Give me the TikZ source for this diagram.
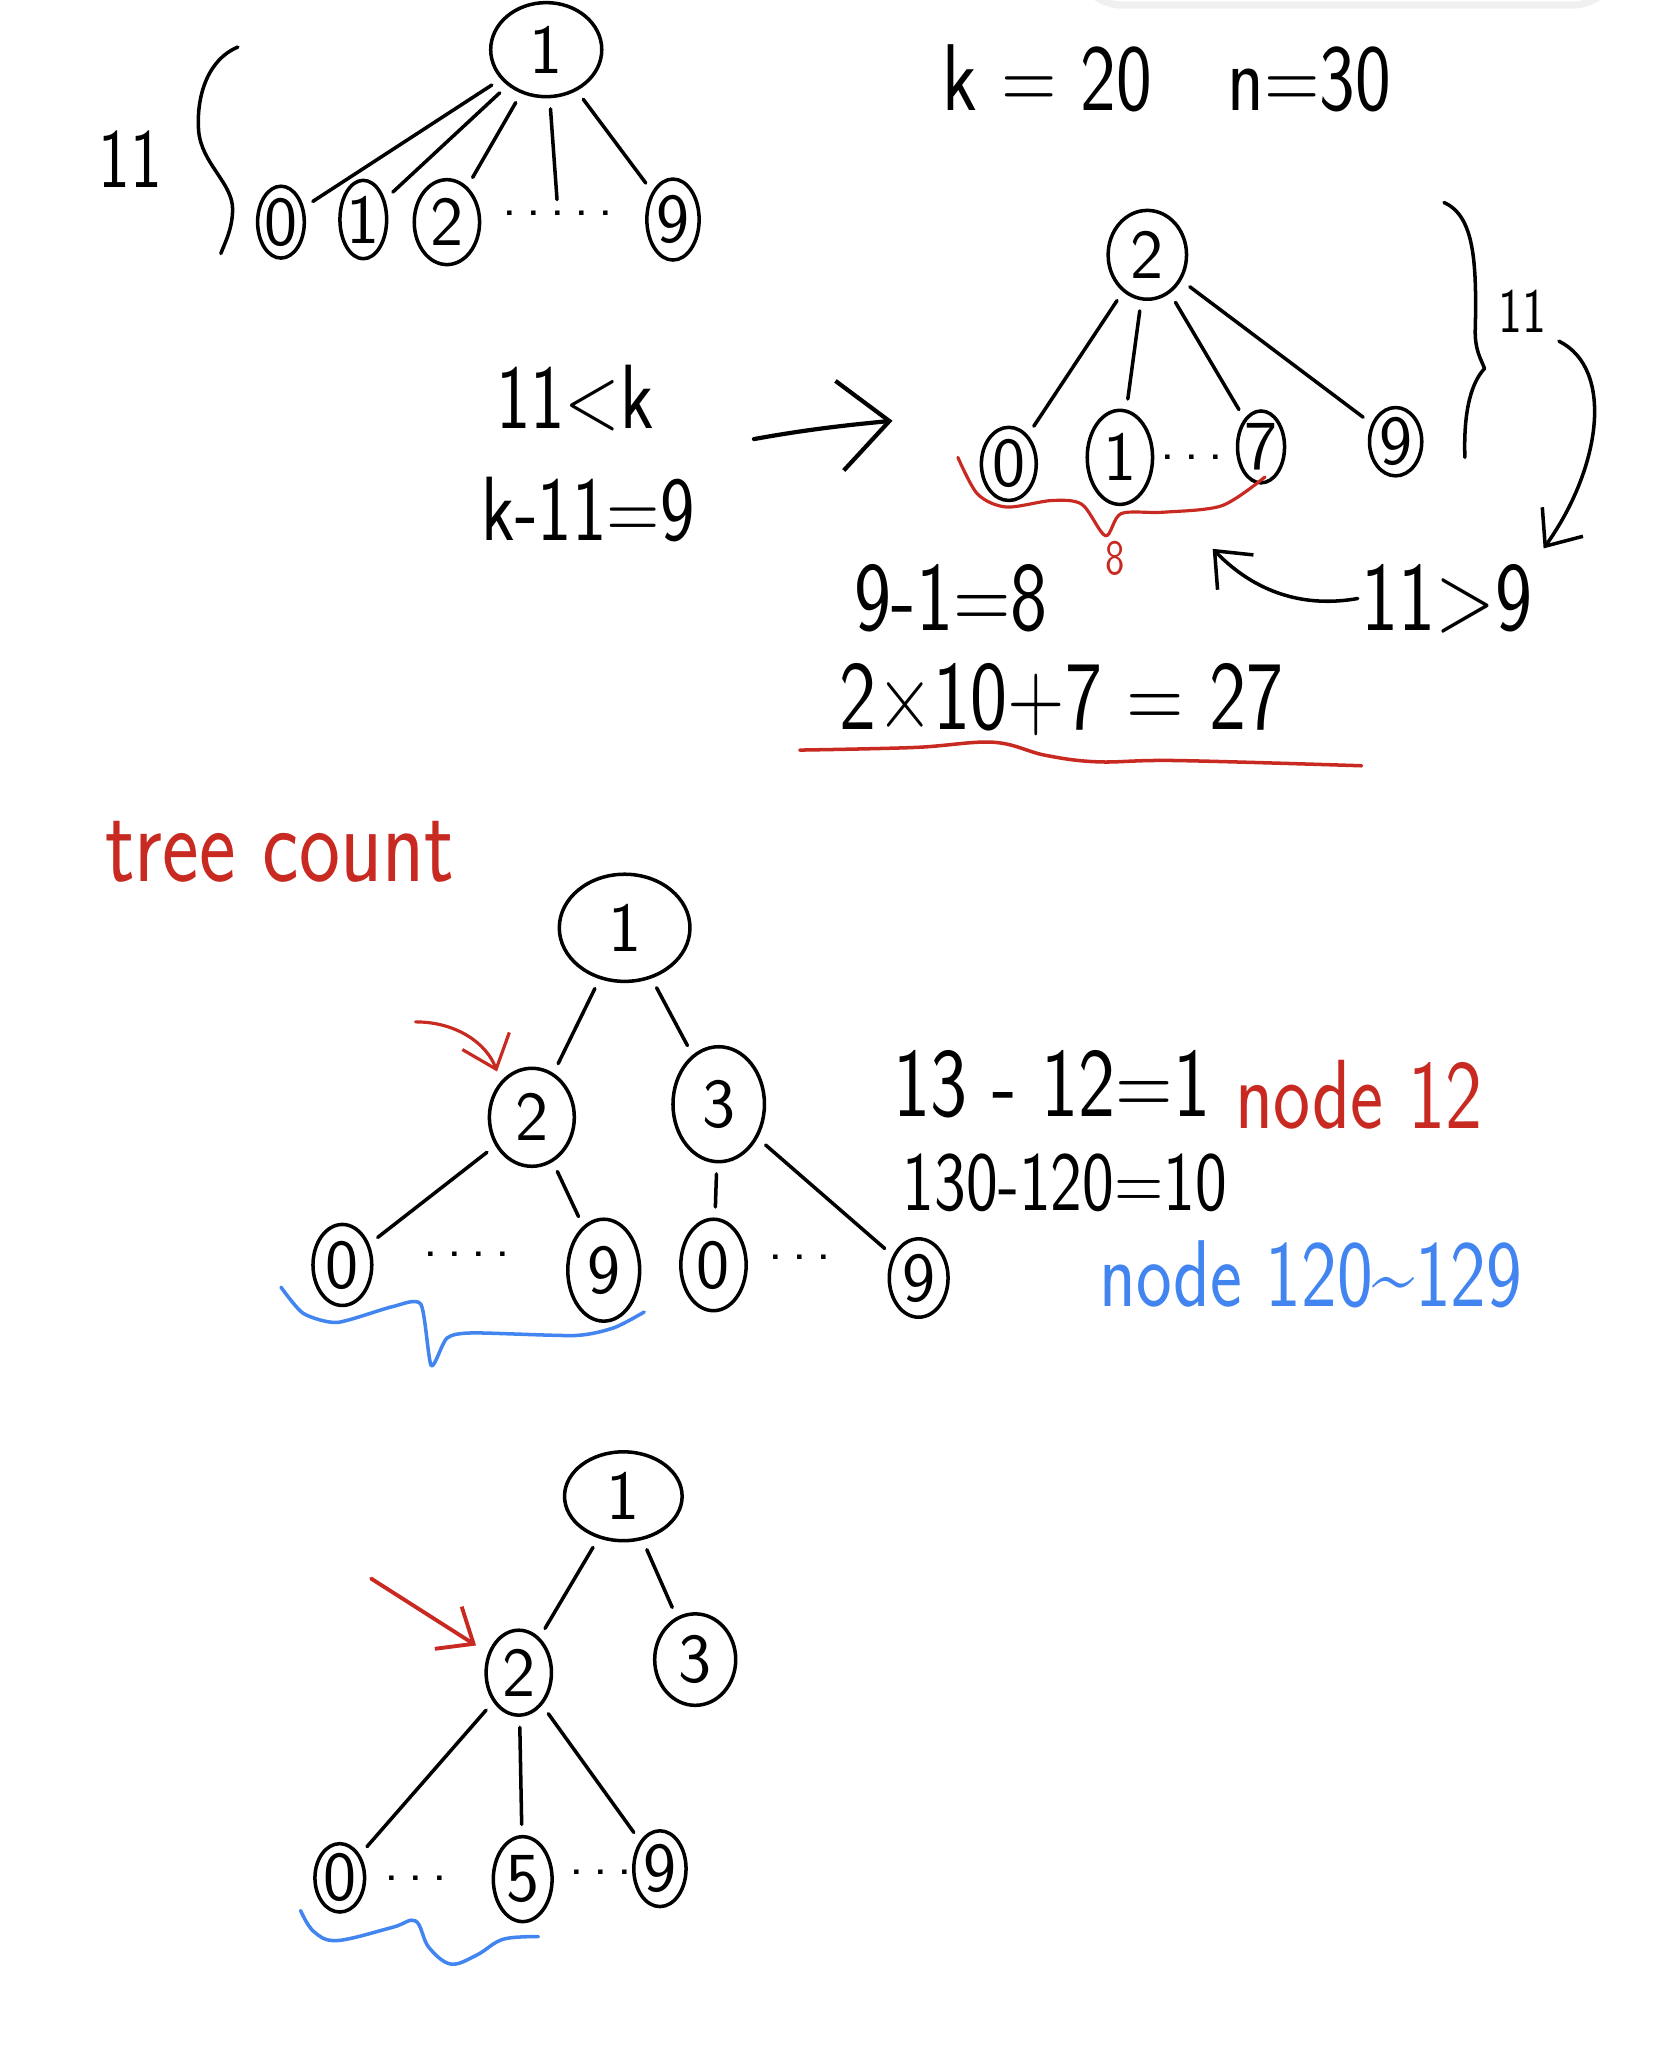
\documentclass[tikz,border=0pt]{standalone}
\usetikzlibrary{shapes.geometric,arrows.meta}
\definecolor{penred}{RGB}{200,42,34}
\definecolor{penblue}{RGB}{66,133,240}
\tikzset{
  nd/.style={draw,ellipse,line width=1pt,inner sep=0pt,font=\sffamily\fontsize{20}{20}\selectfont},
  sz/.style 2 args={minimum width=#1*0.13072mm,minimum height=#2*0.13072mm},
  hand/.style={inner sep=1pt,xscale=0.8,font=\sffamily\fontsize{#1}{#1}\selectfont},
  hand/.default=28,
  dots/.style={inner sep=0pt,font=\sffamily\fontsize{16}{16}\selectfont},
  lnk/.style={line width=1pt,shorten <=3pt,shorten >=3pt},
}
\begin{document}
\begin{tikzpicture}[x=0.13072mm,y=-0.13072mm,line cap=round,line join=round,
  >={Straight Barb[length=3mm,width=5mm]}]
\useasboundingbox[fill=white] (0,0) rectangle (1276,1568);
\draw[gray!12,line width=2pt,rounded corners=14pt] (822,-30) -- (822,4) -- (1240,4) -- (1240,-30);

% first tree: root 1 with ten children
\node[nd,sz={85}{72}] (ar) at (418,38) {1};
\node[nd,sz={32}{55}] (ac0) at (215,170) {0};
\node[nd,sz={30}{60}] (ac1) at (278,168) {1};
\node[nd,sz={50}{65}] (ac2) at (342,170) {2};
\node[dots] (adots) at (427,163) {.\,.\,.\,.\,.};
\node[nd,sz={40}{62}] (ac9) at (515,168) {9};
\foreach \c in {ac0,ac1,ac2,adots,ac9}
  \draw[lnk] (ar) -- (\c);
\draw[line width=1pt] (182,36) .. controls (160,45) and (150,72) .. (152,100)
  .. controls (154,125) and (178,140) .. (178,160) .. controls (178,175) and (172,186) .. (169,194);
\node[hand=24] (n11a) at (100,122) {11};
\node[hand=27] (kn) at (893,60) {k = 20\quad n=30};

% second tree: subtree of 2
\node[nd,sz={60}{68}] (br) at (878,195) {2};
\node[nd,sz={42}{56}] (bc0) at (772,355) {0};
\node[nd,sz={50}{72}] (bc1) at (857,350) {1};
\node[dots] (bdots) at (912,350) {.\,.\,.};
\node[nd,sz={36}{55}] (bc7) at (965,342) {7};
\node[nd,sz={40}{52}] (bc9) at (1068,338) {9};
\foreach \c in {bc0,bc1,bc7,bc9}
  \draw[lnk] (br) -- (\c);
\draw[line width=1pt] (1105,155) .. controls (1128,165) and (1130,200) .. (1129,250)
  .. controls (1128,268) and (1134,276) .. (1136,282) .. controls (1124,295) and (1120,320) .. (1121,350);
\node[hand=18] (n11b) at (1165,238) {11};

\node[hand=26] (ltk) at (440,305) {11<k};
\node[hand=26] (kmi) at (450,390) {k-11=9};
\coordinate (as) at (577,336);
\coordinate (ae) at (683,322);
\draw[line width=1.2pt,-{Straight Barb[length=5mm,width=9mm]}] (as) .. controls (610,330) and (640,326) .. (ae);

\draw[penred,line width=0.9pt] plot[smooth,tension=0.5] coordinates
  {(733,350) (748,378) (770,388) (805,383) (828,386) (846,410) (858,393) (890,392) (935,387) (968,365)};
\node[hand=14,text=penred] (n8) at (853,427) {8};
\node[hand] (nin) at (728,458) {9-1=8};
\node[hand] (gt) at (1107,458) {11>9};
\draw[line width=1pt,->,shorten <=3pt,shorten >=4pt] (n11b.south east)
  .. controls +(50,25) and +(50,-70) .. (gt.north east);
\draw[line width=1pt,->] (gt.west) .. controls (1000,465) and (962,455) .. (928,420);
\node[hand] (calc) at (812,535) {2×10+7 = 27};
\draw[penred,line width=1pt] plot[smooth,tension=0.6] coordinates
  {(612,574) (700,572) (760,568) (800,578) (840,583) (900,582) (1042,586)};

% third tree: counting under 12 and 13
\node[hand=31,text=penred] (tc) at (214,652) {tree count};
\node[nd,sz={100}{82}] (cr) at (478,710) {1};
\node[nd,sz={65}{75}] (c2) at (407,855) {2};
\node[nd,sz={70}{88}] (c3) at (550,845) {3};
\node[nd,sz={45}{62}] (c20) at (262,968) {0};
\node[dots] (c2d) at (357,960) {.\,.\,.\,.};
\node[nd,sz={55}{78}] (c29) at (462,972) {9};
\node[nd,sz={50}{70}] (c30) at (546,968) {0};
\node[dots] (c3d) at (612,962) {.\,.\,.};
\node[nd,sz={45}{60}] (c39) at (703,978) {9};
\foreach \a/\b in {cr/c2,cr/c3,c2/c20,c2/c29,c3/c30,c3/c39}
  \draw[lnk] (\a) -- (\b);
\coordinate (ca) at (318,782);
\draw[penred,line width=0.9pt,->,shorten >=3pt] (ca) to[bend left=35] (c2.north west);
\draw[penblue,line width=1pt] plot[smooth,tension=0.4] coordinates
  {(215,985) (232,1005) (258,1012) (300,1000) (322,998) (330,1045) (342,1024) (362,1020) (440,1022) (470,1016) (493,1004)};
\node[hand] (s1) at (805,830) {13 - 12=1};
\node[hand,text=penred] (nd12) at (1040,838) {node 12};
\node[hand=24] (s2) at (815,905) {130-120=10};
\node[hand=27,text=penblue] (nd120) at (1003,975) {node 120\textasciitilde129};

% fourth tree: down to 2 and its children
\node[nd,sz={90}{68}] (dr) at (477,1145) {1};
\node[nd,sz={50}{65}] (d2) at (397,1280) {2};
\node[nd,sz={62}{70}] (d3) at (532,1270) {3};
\node[nd,sz={38}{52}] (d0) at (260,1437) {0};
\node[dots] (dd1) at (318,1437) {.\,.\,.};
\node[nd,sz={45}{65}] (d5) at (400,1438) {5};
\node[dots] (dd2) at (460,1433) {.\,.\,.};
\node[nd,sz={40}{58}] (d9) at (505,1430) {9};
\foreach \a/\b in {dr/d2,dr/d3,d2/d0,d2/d5,d2/d9}
  \draw[lnk] (\a) -- (\b);
\coordinate (da) at (284,1208);
\draw[penred,line width=1.1pt,->,shorten >=4pt] (da) -- (d2);
\draw[penblue,line width=1pt] plot[smooth,tension=0.6] coordinates
  {(230,1462) (240,1478) (258,1485) (300,1475) (318,1470) (328,1490) (345,1503) (365,1496) (385,1484) (412,1482)};
\end{tikzpicture}
\end{document}
